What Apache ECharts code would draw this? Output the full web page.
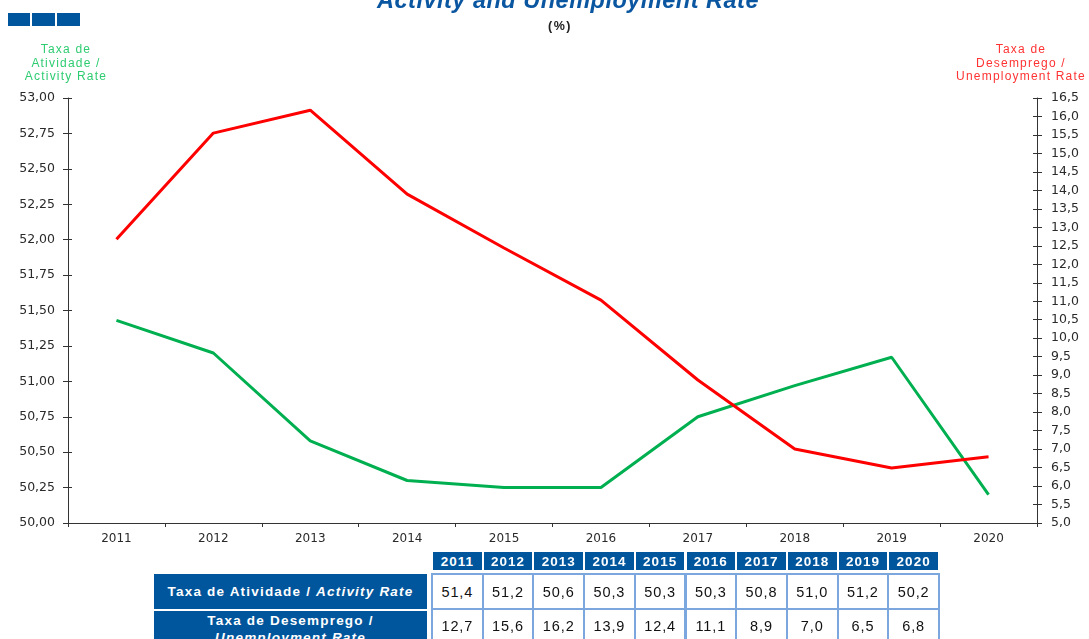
<!DOCTYPE html>
<html><head><meta charset="utf-8">
<script src="https://cdn.jsdelivr.net/npm/echarts@6/dist/echarts.min.js"></script>
<style>
html,body{margin:0;padding:0;background:#fff;}
#wrap{position:relative;width:1089px;height:639px;overflow:hidden;font-family:"Liberation Sans",Arial,sans-serif;}
#chart{position:absolute;left:0;top:0;width:1089px;height:639px;}
.cell{position:absolute;box-sizing:border-box;display:flex;align-items:center;justify-content:center;text-align:center;white-space:nowrap;}
.lbl{position:absolute;transform:translateX(-50%);text-align:center;white-space:nowrap;}
</style></head>
<body><div id="wrap"><div id="chart"></div></div>
<script>
const years = ['2011','2012','2013','2014','2015','2016','2017','2018','2019','2020'];
const activityLine = [51.43, 51.20, 50.58, 50.30, 50.25, 50.25, 50.75, 50.97, 51.17, 50.20];
const unemploymentLine = [12.68, 15.55, 16.17, 13.90, 12.44, 11.03, 8.87, 7.00, 6.49, 6.79];
const activityTable = ['51,4','51,2','50,6','50,3','50,3','50,3','50,8','51,0','51,2','50,2'];
const unemploymentTable = ['12,7','15,6','16,2','13,9','12,4','11,1','8,9','7,0','6,5','6,8'];

const chart = echarts.init(document.getElementById('chart'));
const font = '"DejaVu Sans", "Liberation Sans", sans-serif';
const leftFmt = v => v.toFixed(2).replace('.', ',');
const rightFmt = v => v.toFixed(1).replace('.', ',');
function yax(min, max, interval, pos, inside, labels, fmt, margin) {
  return {type:'value', min, max, interval, position:pos,
    axisLine:{show:!inside, lineStyle:{color:'#333'}},
    axisTick:{show:true, inside, length:inside ? 4 : 5, lineStyle:{color:'#333'}},
    splitLine:{show:false},
    axisLabel:{show:labels, color:'#2a2a2a', fontSize:12.5, fontFamily:font, margin, formatter:fmt}};
}
chart.setOption({
  animation:false,
  grid:{left:68,right:52,top:98,bottom:116},
  xAxis:{type:'category',data:years,boundaryGap:true,
    axisLine:{lineStyle:{color:'#333',width:1}},
    axisTick:{show:true,length:4,lineStyle:{color:'#333'}},
    axisLabel:{color:'#2a2a2a',fontSize:12,fontFamily:font,margin:10}},
  yAxis:[
    yax(50, 53, 0.25, 'left', false, true, leftFmt, 13),
    yax(5, 16.5, 0.5, 'right', false, true, rightFmt, 14),
    yax(50, 53, 0.25, 'left', true, false, leftFmt, 13),
    yax(5, 16.5, 0.5, 'right', true, false, rightFmt, 14)
  ],
  series:[
    {type:'line',data:activityLine,yAxisIndex:0,symbol:'none',lineStyle:{color:'#00b050',width:3},itemStyle:{color:'#00b050'}},
    {type:'line',data:unemploymentLine,yAxisIndex:1,symbol:'none',lineStyle:{color:'#ff0000',width:3},itemStyle:{color:'#ff0000'}}
  ],
  graphic:[
    {type:'rect',shape:{x:8,y:13,width:22,height:13},style:{fill:'#00569c'}},
    {type:'rect',shape:{x:32,y:13,width:23,height:13},style:{fill:'#00569c'}},
    {type:'rect',shape:{x:57,y:13,width:23,height:13},style:{fill:'#00569c'}}
  ]
});

const wrap = document.getElementById('wrap');
function lbl(cx, top, css, html){const d=document.createElement('div');d.className='lbl';d.style.cssText+=`left:${cx}px;top:${top}px;`+css;d.innerHTML=html;wrap.appendChild(d);}
lbl(568, -14, 'font-size:23.5px;font-weight:bold;font-style:italic;color:#0a56a0;line-height:28px;letter-spacing:0.5px;', 'Activity and Unemployment Rate');
lbl(560, 18, 'font-size:12.5px;font-weight:bold;color:#222;letter-spacing:1.5px;line-height:16px;', '(%)');
lbl(66, 43, 'font-size:12px;color:#2ecc71;letter-spacing:1.2px;line-height:13.5px;', 'Taxa de<br>Atividade /<br>Activity Rate');
lbl(1021, 43, 'font-size:12px;color:#ff3333;letter-spacing:1.2px;line-height:13.5px;', 'Taxa de<br>Desemprego /<br>Unemployment Rate');

// table
function add(l,t,w,h,css,html){const d=document.createElement('div');d.className='cell';d.style.cssText+=`left:${l}px;top:${t}px;width:${w}px;height:${h}px;`+css;d.innerHTML=html;wrap.appendChild(d);}
const x0=433, cw=50.7;
years.forEach((y,i)=>{
  add(x0+i*cw,552,cw-2,18,'background:#00569c;color:#fff;font-weight:bold;font-size:13.5px;letter-spacing:1px;',y);
});
add(154,574,273,35,'background:#00569c;color:#fff;font-weight:bold;font-size:13.5px;letter-spacing:1.2px;','Taxa de Atividade /&nbsp;<i>Activity Rate</i>');
add(154,611,273,40,'background:#00569c;color:#fff;font-weight:bold;font-size:13.5px;letter-spacing:1.2px;flex-direction:column;justify-content:flex-start;padding-top:1px;line-height:17px;','<span>Taxa de Desemprego /</span><i>Unemployment Rate</i>');
years.forEach((y,i)=>{
  const l=431+i*cw;
  add(l,573,cw+2,37,'border:2px solid #7ba7de;color:#111;font-size:14.5px;letter-spacing:0.9px;background:#fff;',activityTable[i]);
  add(l,608,cw+2,40,'border:2px solid #7ba7de;color:#111;font-size:14.5px;letter-spacing:0.9px;background:#fff;align-items:flex-start;padding-top:8px;',unemploymentTable[i]);
});
</script></body></html>
